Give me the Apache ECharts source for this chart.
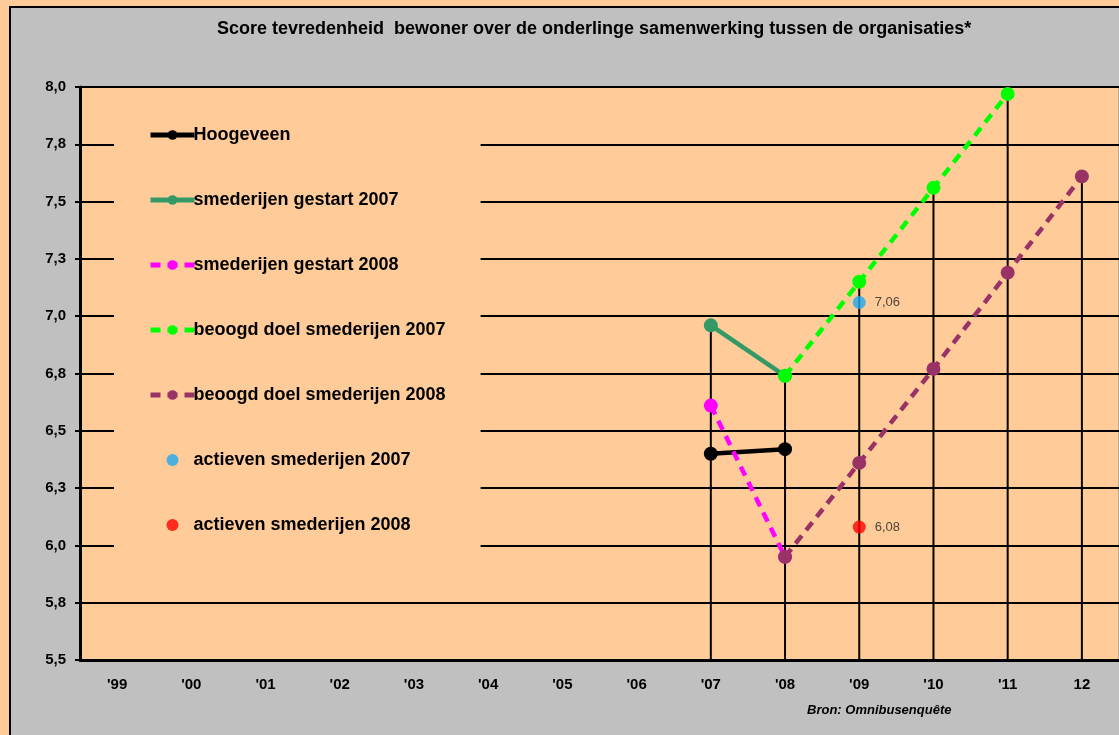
<!DOCTYPE html>
<html>
<head>
<meta charset="utf-8">
<script src="https://cdn.jsdelivr.net/npm/echarts@6/dist/echarts.min.js"></script>
<style>
  html, body { margin: 0; padding: 0; background: #ffcc99; overflow: hidden; }
  #frame { position: absolute; left: 9px; top: 6px; width: 1200px; height: 800px; background: #c0c0c0; border: 2px solid #000; }
  #chart { position: absolute; left: 0; top: 0; width: 1119px; height: 735px; }
</style>
</head>
<body>
<div id="frame"></div>
<div id="chart"></div>
<script>
// categorieen (jaren)
const years = ["'99", "'00", "'01", "'02", "'03", "'04", "'05", "'06", "'07", "'08", "'09", "'10", "'11", "12"]

// scores per reeks (null = geen waarde)
const hoogeveen      = [null, null, null, null, null, null, null, null, 6.40, 6.42, null, null, null, null]
const gestart2007    = [null, null, null, null, null, null, null, null, 6.96, 6.74, null, null, null, null]
const gestart2008    = [null, null, null, null, null, null, null, null, 6.61, 5.95, null, null, null, null]
const doel2007       = [null, null, null, null, null, null, null, null, null, 6.74, 7.15, 7.56, 7.97, null]
const doel2008       = [null, null, null, null, null, null, null, null, null, 5.95, 6.36, 6.77, 7.19, 7.61]
const actieven2007   = [null, null, null, null, null, null, null, null, null, null, 7.06, null, null, null]
const actieven2008   = [null, null, null, null, null, null, null, null, null, null, 6.08, null, null, null]

const yTicks = { min: 5.5, max: 8.0, interval: 0.25 }

// hoogste punt per jaar -> verticale loodlijn naar de as
const allSeries = [hoogeveen, gestart2007, gestart2008, doel2007, doel2008, actieven2007, actieven2008]
const dropLines = years.map((_, i) => {
  let m = null
  allSeries.forEach(s => { if (s[i] != null && (m == null || s[i] > m)) m = s[i] })
  return m
})

const comma = v => v.toFixed(1).replace('.', ',')

const myChart = echarts.init(document.getElementById('chart'))

const lineSeries = (name, data, color, dashed) => ({
  name: name,
  type: 'line',
  data: data,
  connectNulls: false,
  symbol: 'circle',
  symbolSize: 14,
  itemStyle: { color: color },
  lineStyle: { color: color, width: 4.5, type: dashed ? [10, 7] : 'solid' },
  z: 5,
})

const dotSeries = (name, data, color) => ({
  name: name,
  type: 'scatter',
  data: data,
  symbol: 'circle',
  symbolSize: 13,
  itemStyle: { color: color },
  label: {
    show: true,
    position: 'right',
    distance: 9,
    color: '#222',
    fontSize: 13,
    fontFamily: 'Liberation Sans, Arial',
    formatter: p => p.value.toFixed(2).replace('.', ','),
  },
  z: 6,
})

myChart.setOption({
  animation: false,
  textStyle: { fontFamily: 'Liberation Sans, Arial' },
  graphic: [
    {
      type: 'text',
      left: 807,
      top: 704,
      style: {
        text: 'Bron: Omnibusenquête',
        fontSize: 13,
        fontStyle: 'italic',
        fontWeight: 'bold',
        fill: '#000',
        fontFamily: 'Liberation Sans, Arial',
      },
    },
    {
      type: 'text',
      left: 217,
      top: 20,
      style: {
        text: 'Score tevredenheid  bewoner over de onderlinge samenwerking tussen de organisaties*',
        fontSize: 18,
        fontWeight: 'bold',
        fill: '#000',
        fontFamily: 'Liberation Sans, Arial',
      },
    },
  ],
  grid: {
    left: 80,
    top: 87,
    width: 1042,
    height: 573,
    show: true,
    backgroundColor: '#ffcc99',
    borderColor: '#808080',
    borderWidth: 1,
  },
  legend: {
    orient: 'vertical',
    left: 114,
    top: 105,
    padding: [21, 35, 30, 34],
    backgroundColor: '#ffcc99',
    itemWidth: 44,
    itemHeight: 12,
    itemGap: 47,
    lineStyle: { width: 5 },
    data: ['Hoogeveen', 'smederijen gestart 2007', 'smederijen gestart 2008',
      'beoogd doel smederijen 2007', 'beoogd doel smederijen 2008',
      'actieven smederijen 2007', 'actieven smederijen 2008'],
    textStyle: { fontSize: 18, fontWeight: 'bold', color: '#000', lineHeight: 18, padding: [0, 0, 0, -6] },
    z: 4,
  },
  xAxis: {
    type: 'category',
    data: years,
    axisLine: { lineStyle: { color: '#000', width: 3 } },
    axisTick: { show: false },
    axisLabel: { color: '#000', fontSize: 15, fontWeight: 'bold', margin: 17 },
    splitLine: { show: false },
  },
  yAxis: {
    type: 'value',
    min: yTicks.min,
    max: yTicks.max,
    interval: yTicks.interval,
    axisLine: { show: true, lineStyle: { color: '#000', width: 3 } },
    axisTick: { show: true, length: 5, lineStyle: { color: '#000', width: 2 } },
    axisLabel: { color: '#000', fontSize: 15, fontWeight: 'bold', margin: 14, formatter: comma },
    splitLine: { show: true, lineStyle: { color: '#000', width: 2 } },
  },
  series: [
    {
      name: 'loodlijn',
      type: 'bar',
      data: dropLines,
      barWidth: 2,
      itemStyle: { color: '#000' },
      silent: true,
      z: 1,
    },
    lineSeries('Hoogeveen', hoogeveen, '#000000', false),
    lineSeries('smederijen gestart 2007', gestart2007, '#339966', false),
    lineSeries('smederijen gestart 2008', gestart2008, '#ff00ff', true),
    lineSeries('beoogd doel smederijen 2007', doel2007, '#00ff00', true),
    lineSeries('beoogd doel smederijen 2008', doel2008, '#993366', true),
    dotSeries('actieven smederijen 2007', actieven2007, '#1ea9ee'),
    dotSeries('actieven smederijen 2008', actieven2008, '#ff0000'),
  ],
})
</script>
</body>
</html>
